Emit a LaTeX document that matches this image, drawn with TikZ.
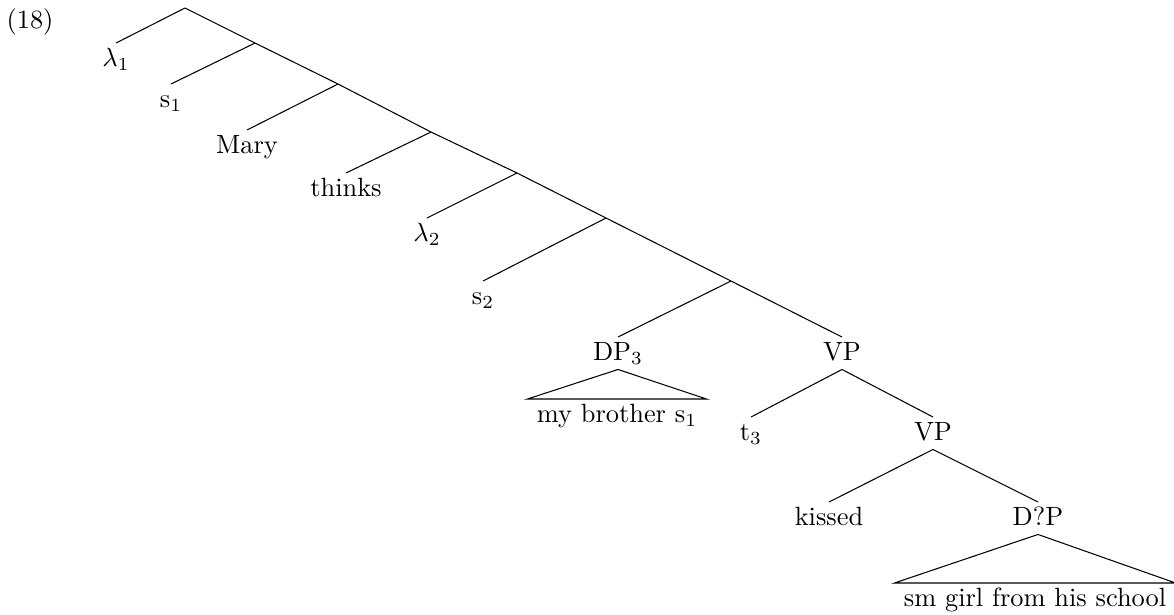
\documentclass[tikz,border=0pt]{standalone}
\usepackage{amsmath}
\usepackage{tikz}

\begin{document}
\begin{tikzpicture}[
  x=0.379pt, y=-0.379pt,
  lbl/.style={inner sep=1.7pt, text height=7pt, text depth=1.5pt,
              anchor=north},
  leaf/.style={lbl, inner xsep=3.4pt}
]
\useasboundingbox (0,0) rectangle (1174,614);
\node (exnum) at (30,22) {(18)};
% spine of empty nodes
\coordinate (r0) at (185,8);
\coordinate (c1) at (255,43);
\coordinate (c2) at (338,84);
\coordinate (c3) at (431,132);
\coordinate (c4) at (517,173);
\coordinate (c5) at (606,218);
\coordinate (c6) at (731,281);
% labels
\node[lbl] (lam1) at (116,43) {$\lambda_1$};
\node[lbl] (s1) at (171,84) {s$_1$};
\node[lbl] (mary) at (247,130) {Mary};
\node[lbl] (thinks) at (346,173) {thinks};
\node[lbl] (lam2) at (427,218) {$\lambda_2$};
\node[lbl] (s2) at (483,281) {s$_2$};
\node[lbl] (dp) at (618,337) {DP$_3$};
\node[lbl] (vp) at (842,337) {VP};
\node[leaf] (dptxt) at (617,399) {my brother s$_1$};
\node[lbl] (t3) at (751,417) {t$_3$};
\node[lbl] (vpb) at (933,417) {VP};
\node[lbl] (kissed) at (829,502) {kissed};
\node[lbl] (dqp) at (1038,502) {D?P};
\node[leaf] (dqptxt) at (1035,583) {sm girl from his school};
% branches
\draw (r0) -- (c1) -- (c2) -- (c3) -- (c4) -- (c5) -- (c6) -- (vp.north);
\draw (r0) -- (lam1.north);
\draw (c1) -- (s1.north);
\draw (c2) -- (mary.north);
\draw (c3) -- (thinks.north);
\draw (c4) -- (lam2.north);
\draw (c5) -- (s2.north);
\draw (c6) -- (dp.north);
\draw (vp.south) -- (t3.north);
\draw (vp.south) -- (vpb.north);
\draw (vpb.south) -- (kissed.north);
\draw (vpb.south) -- (dqp.north);
% triangles
\draw (dp.south) -- (dptxt.north west) -- (dptxt.north east) -- cycle;
\draw (dqp.south) -- (dqptxt.north west) -- (dqptxt.north east) -- cycle;
\end{tikzpicture}
\end{document}
